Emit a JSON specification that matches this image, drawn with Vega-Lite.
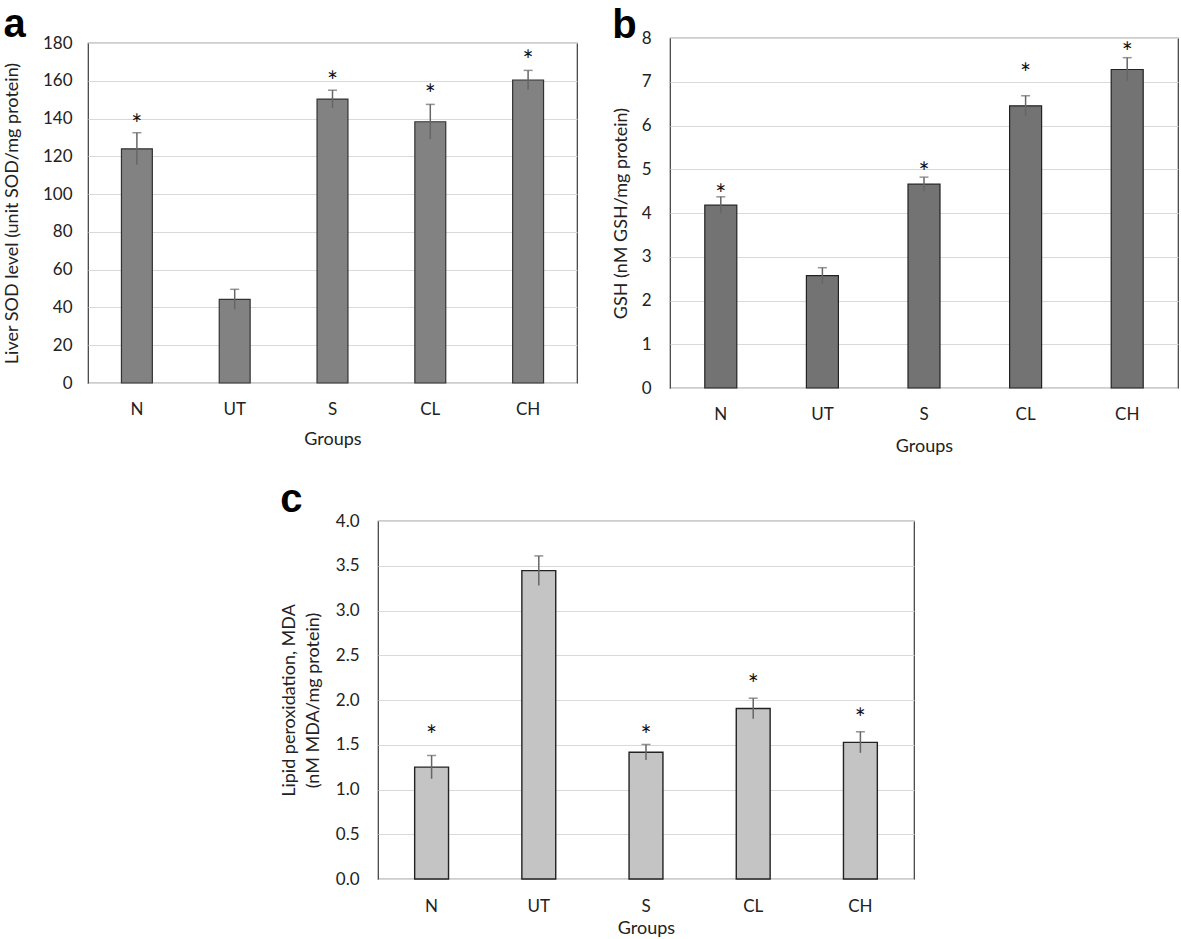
{
  "$schema": "https://vega.github.io/schema/vega-lite/v6.json",
  "padding": {"left": 2, "top": 4, "right": 0, "bottom": 0},
  "background": "white",
  "datasets": {
    "sod": [
      {"group": "N", "mean": 124, "lo": 115.5, "hi": 132.5, "star_y": 140},
      {"group": "UT", "mean": 44.3, "lo": 39, "hi": 49.6, "star_y": null},
      {"group": "S", "mean": 150.3, "lo": 145.6, "hi": 155, "star_y": 162.5},
      {"group": "CL", "mean": 138.3, "lo": 129.1, "hi": 147.5, "star_y": 155.6},
      {"group": "CH", "mean": 160.4, "lo": 155.3, "hi": 165.5, "star_y": 173.6}
    ],
    "gsh": [
      {"group": "N", "mean": 4.18, "lo": 3.99, "hi": 4.37, "star_y": 4.54},
      {"group": "UT", "mean": 2.57, "lo": 2.39, "hi": 2.75, "star_y": null},
      {"group": "S", "mean": 4.66, "lo": 4.5, "hi": 4.82, "star_y": 5.05},
      {"group": "CL", "mean": 6.45, "lo": 6.22, "hi": 6.68, "star_y": 7.31},
      {"group": "CH", "mean": 7.28, "lo": 7.01, "hi": 7.55, "star_y": 7.79}
    ],
    "mda": [
      {"group": "N", "mean": 1.25, "lo": 1.12, "hi": 1.38, "star_y": 1.66},
      {"group": "UT", "mean": 3.445, "lo": 3.28, "hi": 3.61, "star_y": null},
      {"group": "S", "mean": 1.417, "lo": 1.33, "hi": 1.503, "star_y": 1.66},
      {"group": "CL", "mean": 1.905, "lo": 1.79, "hi": 2.02, "star_y": 2.23},
      {"group": "CH", "mean": 1.526, "lo": 1.41, "hi": 1.645, "star_y": 1.85}
    ]
  },
  "vconcat": [
    {
      "hconcat": [
        {
          "title": {"text": "a", "offset": -11},
          "width": 489,
          "height": 340,
          "data": {"name": "sod"},
          "encoding": {
            "x": {"field": "group", "type": "nominal", "sort": ["N", "UT", "S", "CL", "CH"],
              "scale": {"paddingInner": 0.684, "paddingOuter": 0.342},
              "axis": {"title": "Groups", "labelPadding": 18, "titlePadding": 13}}
          },
          "layer": [
            {"mark": {"type": "bar", "fill": "#828282", "stroke": "#333333", "strokeWidth": 1.2},
             "encoding": {"y": {"field": "mean", "type": "quantitative", "title": "Liver SOD level (unit SOD/mg protein)",
               "scale": {"domain": [0, 180], "nice": false},
               "axis": {"values": [0, 20, 40, 60, 80, 100, 120, 140, 160, 180], "tickCount": 10, "format": "d", "labelPadding": 16, "titlePadding": 21}}}},
            {"mark": {"type": "rule", "color": "#666666", "strokeWidth": 1.5},
             "encoding": {"y": {"field": "lo", "type": "quantitative", "title": "Liver SOD level (unit SOD/mg protein)",
               "axis": {"values": [0, 20, 40, 60, 80, 100, 120, 140, 160, 180], "tickCount": 10, "format": "d", "labelPadding": 16, "titlePadding": 21}}, "y2": {"field": "hi"}}},
            {"mark": {"type": "tick", "color": "#666666", "thickness": 1.5, "size": 9},
             "encoding": {"y": {"field": "hi", "type": "quantitative", "title": "Liver SOD level (unit SOD/mg protein)",
               "axis": {"values": [0, 20, 40, 60, 80, 100, 120, 140, 160, 180], "tickCount": 10, "format": "d", "labelPadding": 16, "titlePadding": 21}}}},
            {"transform": [{"filter": "isValid(datum.star_y)"}],
             "mark": {"type": "text", "text": "*", "fontSize": 26, "font": "Lato", "color": "#111111", "baseline": "alphabetic", "dy": 15},
             "encoding": {"y": {"field": "star_y", "type": "quantitative", "title": "Liver SOD level (unit SOD/mg protein)",
               "axis": {"values": [0, 20, 40, 60, 80, 100, 120, 140, 160, 180], "tickCount": 10, "format": "d", "labelPadding": 16, "titlePadding": 21}}}}
          ]
        },
        {
          "title": {"text": "b", "offset": -17},
          "width": 508,
          "height": 350,
          "data": {"name": "gsh"},
          "encoding": {
            "x": {"field": "group", "type": "nominal", "sort": ["N", "UT", "S", "CL", "CH"],
              "scale": {"paddingInner": 0.685, "paddingOuter": 0.3425},
              "axis": {"title": "Groups", "labelPadding": 18, "titlePadding": 15}}
          },
          "layer": [
            {"mark": {"type": "bar", "fill": "#737373", "stroke": "#222222", "strokeWidth": 1.2},
             "encoding": {"y": {"field": "mean", "type": "quantitative", "title": "GSH (nM GSH/mg protein)",
               "scale": {"domain": [0, 8], "nice": false},
               "axis": {"values": [0, 1, 2, 3, 4, 5, 6, 7, 8], "tickCount": 9, "format": "d", "labelPadding": 19, "titlePadding": 11}}}},
            {"mark": {"type": "rule", "color": "#666666", "strokeWidth": 1.5},
             "encoding": {"y": {"field": "lo", "type": "quantitative", "title": "GSH (nM GSH/mg protein)",
               "axis": {"values": [0, 1, 2, 3, 4, 5, 6, 7, 8], "tickCount": 9, "format": "d", "labelPadding": 19, "titlePadding": 11}}, "y2": {"field": "hi"}}},
            {"mark": {"type": "tick", "color": "#666666", "thickness": 1.5, "size": 9},
             "encoding": {"y": {"field": "hi", "type": "quantitative", "title": "GSH (nM GSH/mg protein)",
               "axis": {"values": [0, 1, 2, 3, 4, 5, 6, 7, 8], "tickCount": 9, "format": "d", "labelPadding": 19, "titlePadding": 11}}}},
            {"transform": [{"filter": "isValid(datum.star_y)"}],
             "mark": {"type": "text", "text": "*", "fontSize": 26, "font": "Lato", "color": "#111111", "baseline": "alphabetic", "dy": 15},
             "encoding": {"y": {"field": "star_y", "type": "quantitative", "title": "GSH (nM GSH/mg protein)",
               "axis": {"values": [0, 1, 2, 3, 4, 5, 6, 7, 8], "tickCount": 9, "format": "d", "labelPadding": 19, "titlePadding": 11}}}}
          ]
        }
      ],
      "spacing": 93,
      "bounds": "flush",
      "center": true
    },
    {
      "hconcat": [
        {"width": 191, "height": 10, "data": {"values": []}, "mark": "point", "view": {"stroke": null}},
        {
          "title": {"text": "c", "offset": -8},
          "width": 536,
          "height": 358,
          "data": {"name": "mda"},
          "encoding": {
            "x": {"field": "group", "type": "nominal", "sort": ["N", "UT", "S", "CL", "CH"],
              "scale": {"paddingInner": 0.684, "paddingOuter": 0.342},
              "axis": {"title": "Groups", "labelPadding": 19, "titlePadding": 5}}
          },
          "layer": [
            {"mark": {"type": "bar", "fill": "#c4c4c4", "stroke": "#222222", "strokeWidth": 1.4},
             "encoding": {"y": {"field": "mean", "type": "quantitative", "title": ["Lipid peroxidation, MDA", "(nM MDA/mg protein)"],
               "scale": {"domain": [0, 4], "nice": false},
               "axis": {"values": [0, 0.5, 1, 1.5, 2, 2.5, 3, 3.5, 4], "tickCount": 9, "format": ".1f", "labelPadding": 19, "titlePadding": 13, "titleLineHeight": 24}}}},
            {"mark": {"type": "rule", "color": "#666666", "strokeWidth": 1.5},
             "encoding": {"y": {"field": "lo", "type": "quantitative", "title": ["Lipid peroxidation, MDA", "(nM MDA/mg protein)"],
               "axis": {"values": [0, 0.5, 1, 1.5, 2, 2.5, 3, 3.5, 4], "tickCount": 9, "format": ".1f", "labelPadding": 19, "titlePadding": 13, "titleLineHeight": 24}}, "y2": {"field": "hi"}}},
            {"mark": {"type": "tick", "color": "#666666", "thickness": 1.5, "size": 9},
             "encoding": {"y": {"field": "hi", "type": "quantitative", "title": ["Lipid peroxidation, MDA", "(nM MDA/mg protein)"],
               "axis": {"values": [0, 0.5, 1, 1.5, 2, 2.5, 3, 3.5, 4], "tickCount": 9, "format": ".1f", "labelPadding": 19, "titlePadding": 13, "titleLineHeight": 24}}}},
            {"transform": [{"filter": "isValid(datum.star_y)"}],
             "mark": {"type": "text", "text": "*", "fontSize": 26, "font": "Lato", "color": "#111111", "baseline": "alphabetic", "dy": 15},
             "encoding": {"y": {"field": "star_y", "type": "quantitative", "title": ["Lipid peroxidation, MDA", "(nM MDA/mg protein)"],
               "axis": {"values": [0, 0.5, 1, 1.5, 2, 2.5, 3, 3.5, 4], "tickCount": 9, "format": ".1f", "labelPadding": 19, "titlePadding": 13, "titleLineHeight": 24}}}}
          ]
        }
      ],
      "spacing": 0
    }
  ],
  "spacing": 23,
  "config": {
    "font": "Lato",
    "view": {"stroke": "#3a3a3a", "strokeWidth": 1.2},
    "axis": {"labelFont": "Lato", "titleFont": "Lato", "labelFontSize": 17, "titleFontSize": 18, "titleFontWeight": "normal",
      "labelColor": "#222222", "titleColor": "#222222", "ticks": false, "tickSize": 0, "domain": false},
    "axisY": {"gridColor": "#d9d9d9", "gridWidth": 1.2, "titleFontSize": 18},
    "axisX": {"grid": false, "labelAngle": 0},
    "title": {"font": "Liberation Sans", "fontSize": 40, "fontWeight": "bold", "anchor": "start", "frame": "bounds", "color": "#000000"}
  }
}
